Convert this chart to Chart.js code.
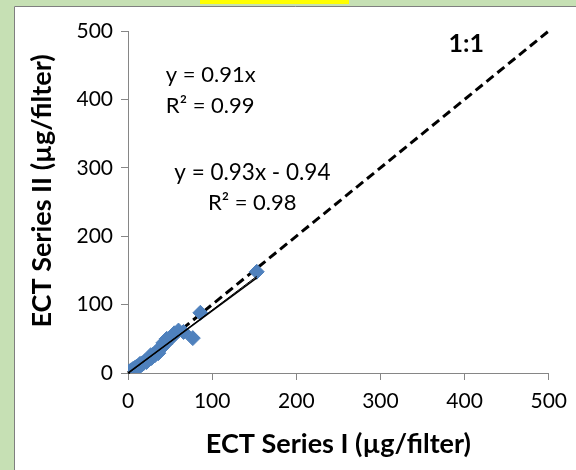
<!DOCTYPE html>
<html>
<head>
<meta charset="utf-8">
<script src="https://cdn.jsdelivr.net/npm/chart.js@4/dist/chart.umd.min.js"></script>
<style>
  html, body { margin: 0; padding: 0; background: #c6e0b4; }
  #wrap { width: 576px; height: 470px; }
</style>
</head>
<body>
<div id="wrap"><canvas id="myChart" width="576" height="470"></canvas></div>
<script>
// ECT Series I vs Series II (µg/filter)
const seriesI  = [0.5, 1, 1.5, 2, 3, 4, 5, 6, 7, 8, 9, 10, 11, 12, 13, 14, 15, 16, 17, 18, 19, 20, 22, 24, 25, 27, 28, 30, 32, 33, 35, 36, 38, 40, 42, 44, 46, 48, 52, 55, 60, 66, 77, 86, 153];
const seriesII = [0.3, 1.2, 0.8, 2.5, 2, 4, 3.5, 6, 4, 7, 8, 9, 7, 10, 9, 13, 11, 14, 13, 15, 15, 17, 16, 19, 22, 26, 22, 27, 26, 30, 33, 29, 35, 37, 44, 42, 50, 48, 52, 58, 62, 60, 51, 88, 148];

// 1:1 reference line and fitted trendlines (end points)
const oneToOneX = [0, 500];
const oneToOneY = [0, 500];
const trendAX = [0, 153];
const trendAY = [0, 139.2];
const trendBX = [1, 153];
const trendBY = [0, 141.4];

const axisTicks = [0, 100, 200, 300, 400, 500];
const yTitle = 'ECT Series II (µg/filter)';

const toPoints = (xs, ys) => xs.map((x, i) => ({ x: x, y: ys[i] }));

// background: green page, white chart box, yellow tab
const backdrop = {
    id: 'backdrop',
    beforeDraw(chart) {
        const c = chart.ctx;
        c.save();
        c.fillStyle = '#c6e0b4';
        c.fillRect(0, 0, chart.width, chart.height);
        c.fillStyle = '#ffffff';
        c.fillRect(14, 6, chart.width - 14, chart.height - 6);
        c.strokeStyle = '#7f7f7f';
        c.lineWidth = 1;
        c.beginPath();
        c.moveTo(14.5, chart.height);
        c.lineTo(14.5, 6.5);
        c.lineTo(chart.width, 6.5);
        c.stroke();
        c.fillStyle = '#ffff00';
        c.fillRect(200, 0, 149, 4);
        c.restore();
    }
};

// text labels placed in data coordinates
const notes = [
    { text: '1:1', x: 381, y: 481, bold: true, size: 25 },
    { text: 'y = 0.91x', x: 45, y: 436, size: 22 },
    { text: 'R² = 0.99', x: 45, y: 391, size: 22 },
    { text: 'y = 0.93x - 0.94', x: 55, y: 293, size: 22.5 },
    { text: 'R² = 0.98', x: 95, y: 248, size: 22 }
];

const annotate = {
    id: 'annotate',
    afterDatasetsDraw(chart) {
        const c = chart.ctx;
        const xs = chart.scales.x, ys = chart.scales.y;
        c.save();
        c.fillStyle = '#000000';
        c.textBaseline = 'middle';
        c.textAlign = 'left';
        notes.forEach(n => {
            c.font = (n.bold ? 'bold ' : '') + n.size + 'px Lato';
            c.fillText(n.text, xs.getPixelForValue(n.x), ys.getPixelForValue(n.y));
        });
        // vertical axis title, sits a little above the plot's middle
        c.font = 'bold 27px Lato';
        c.textAlign = 'center';
        c.translate(42, 191);
        c.rotate(-Math.PI / 2);
        c.fillText(yTitle, 0, 0);
        c.restore();
    }
};

const ctx = document.getElementById('myChart').getContext('2d');
const myChart = new Chart(ctx, {
    type: 'scatter',
    data: {
        datasets: [{
            label: 'Trend A',
            data: toPoints(trendAX, trendAY),
            showLine: true,
            borderColor: '#000000',
            borderWidth: 1.5,
            pointRadius: 0,
            order: 0
        }, {
            label: 'Trend B',
            data: toPoints(trendBX, trendBY),
            showLine: true,
            borderColor: '#000000',
            borderWidth: 1,
            pointRadius: 0,
            order: 0
        }, {
            label: 'ECT',
            data: toPoints(seriesI, seriesII),
            pointStyle: 'rectRot',
            pointRadius: 7.5,
            backgroundColor: '#4f81bd',
            borderColor: '#4f81bd',
            borderWidth: 1,
            order: 1
        }, {
            label: '1:1',
            data: toPoints(oneToOneX, oneToOneY),
            showLine: true,
            borderColor: '#000000',
            borderWidth: 3,
            borderDash: [9, 5],
            pointRadius: 0,
            clip: false,
            order: 2
        }]
    },
    options: {
        responsive: false,
        animation: false,
        events: [],
        layout: { padding: { top: 31, right: 23, left: 0, bottom: 0 } },
        plugins: {
            legend: { display: false },
            tooltip: { enabled: false }
        },
        scales: {
            x: {
                type: 'linear',
                min: 0,
                max: 500,
                afterFit: s => { s.height = 97; },
                afterBuildTicks: s => { s.ticks = axisTicks.map(v => ({ value: v })); },
                grid: { drawOnChartArea: false, drawTicks: true, tickLength: 7, color: '#868686' },
                border: { color: '#868686', width: 1 },
                ticks: { padding: 9, color: '#000000', font: { family: 'Lato', size: 21 } },
                title: {
                    display: true,
                    text: 'ECT Series I (µg/filter)',
                    color: '#000000',
                    font: { family: 'Lato', size: 27, weight: 'bold' },
                    padding: { top: 0, bottom: 10 }
                }
            },
            y: {
                type: 'linear',
                min: 0,
                max: 500,
                afterFit: s => { s.width = 128; },
                afterBuildTicks: s => { s.ticks = axisTicks.map(v => ({ value: v })); },
                grid: { drawOnChartArea: false, drawTicks: true, tickLength: 7, color: '#868686' },
                border: { color: '#868686', width: 1 },
                ticks: { padding: 8, color: '#000000', font: { family: 'Lato', size: 21 } }
            }
        }
    },
    plugins: [backdrop, annotate]
});
</script>
</body>
</html>
